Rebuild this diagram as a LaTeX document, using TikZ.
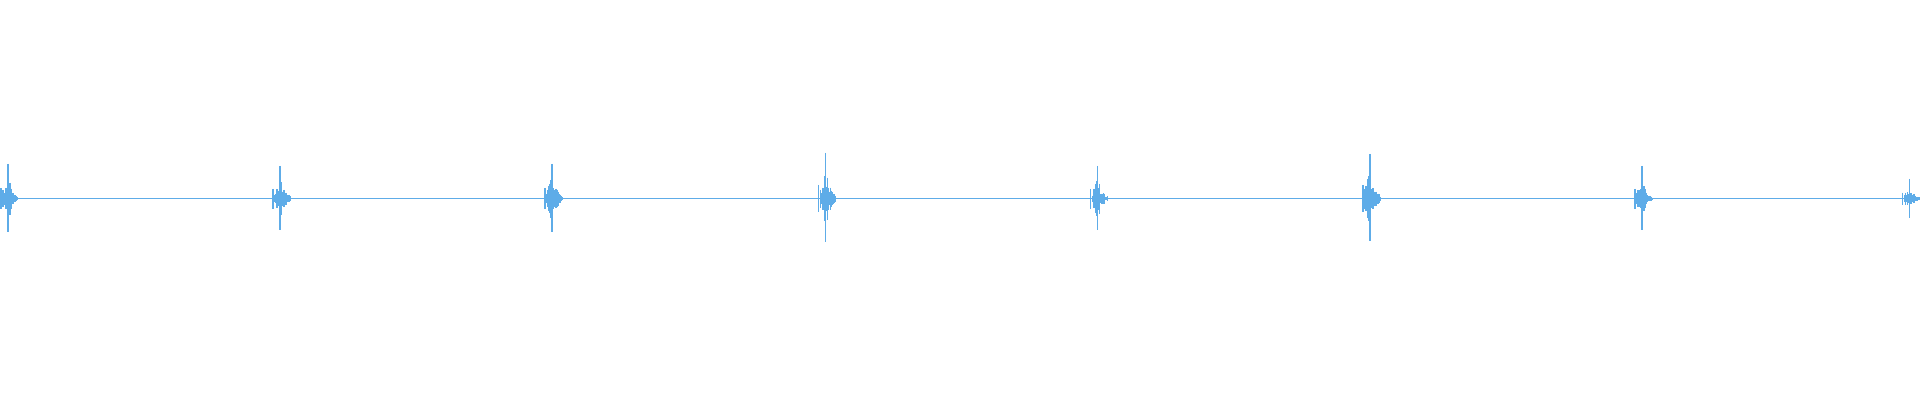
\documentclass[tikz,border=0pt]{standalone}
\usepackage{tikz}
\definecolor{wave}{RGB}{94,172,232}
\begin{document}
\begin{tikzpicture}[x=0.01cm,y=-0.01cm,
    wave line/.style={wave,line width=0.4pt},
    spike/.style={wave,line width=0.45pt}]
  \fill[white] (0,0) rectangle (1920,400);
  \pgfmathsetseed{7}
  % baseline
  \coordinate (left) at (0,200);
  \coordinate (right) at (1920,200);
  \draw[wave line] (left) -- (right);
  % bursts: centre / peak amplitude
  \foreach \c/\a in {3/35,277/33,551/35,826/46,1100/33,1374/45,1648/33,1917/20}{
    \draw[spike] (\c,200-\a) -- (\c,200+\a*0.95);
    \draw[spike] (\c-7,200-\a*0.3) -- (\c-7,200+\a*0.3);
    \foreach \k in {-5,...,10}{
      \pgfmathsetmacro{\h}{\a*0.7*exp(-abs(\k)/5)*(0.35+0.65*rnd)}
      \draw[spike] (\c+\k,200-\h) -- (\c+\k,200+\h);
    }
  }
\end{tikzpicture}
\end{document}
